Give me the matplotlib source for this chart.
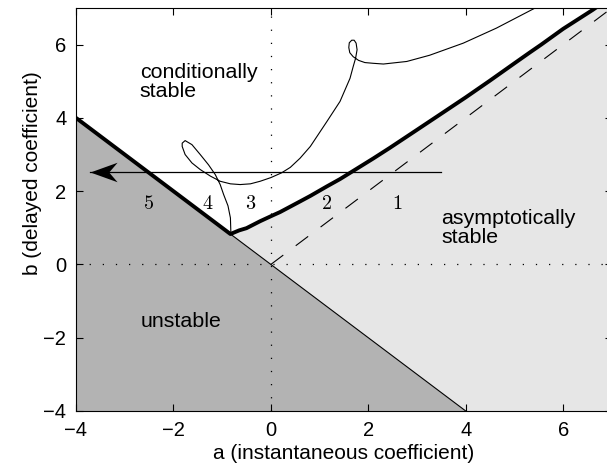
import numpy as np
import matplotlib
matplotlib.use('Agg')
import matplotlib.pyplot as plt
from matplotlib.path import Path

plt.rcParams['font.family'] = ['Liberation Sans', 'DejaVu Sans']
plt.rcParams['mathtext.fontset'] = 'cm'

# stability boundary (thick line): left straight part + curve
bound_a = [-4.0, -0.83, -0.65, -0.5, -0.22, 0.04, 0.19, 0.6, 0.81, 1.15, 1.42,
           1.76, 2.1, 2.44, 2.95, 3.47, 4.0, 4.49, 5.0, 5.31, 5.55, 6.0, 6.61, 6.75]
bound_b = [4.0, 0.83, 0.93, 0.99, 1.18, 1.34, 1.43, 1.72, 1.87, 2.13, 2.33,
           2.61, 2.89, 3.18, 3.63, 4.09, 4.56, 5.01, 5.49, 5.78, 6.0, 6.43, 6.95, 7.08]

# thin trajectory curve
traj_a = [-0.82, -0.83, -0.88, -0.97, -1.04, -1.14, -1.28, -1.45, -1.62, -1.76,
          -1.82, -1.82, -1.76, -1.62, -1.45, -1.24, -1.04, -0.83, -0.63, -0.42,
          -0.22, 0.0, 0.22, 0.40, 0.60, 0.81, 1.15, 1.42, 1.625, 1.69, 1.74,
          1.77, 1.75, 1.71, 1.66, 1.61, 1.60, 1.62, 1.69, 1.80, 1.93, 2.10,
          2.31, 2.79, 3.26, 3.95, 4.63, 5.31, 5.5]
traj_b = [0.83, 1.27, 1.60, 1.91, 2.18, 2.45, 2.72, 3.00, 3.27, 3.38,
          3.31, 3.22, 3.00, 2.77, 2.59, 2.41, 2.27, 2.20, 2.18, 2.20,
          2.27, 2.37, 2.50, 2.65, 2.90, 3.22, 3.90, 4.45, 5.08, 5.40, 5.63,
          5.86, 6.04, 6.12, 6.12, 6.05, 5.92, 5.78, 5.67, 5.57, 5.51, 5.49,
          5.47, 5.54, 5.71, 6.04, 6.45, 6.92, 7.05]

# horizontal arrow (start, end) and its height
arrow_a = [3.5, -3.72]
arrow_b = 2.52

diag_a = [-4, 4]          # line b = -a
dash_a = [0, 7]           # line b = a

num_labels = ['1', '2', '3', '4', '5']
num_a = [2.59, 1.15, -0.41, -1.30, -2.51]
num_b = 1.67

ticks = [-4, -2, 0, 2, 4, 6]

DARK = '#b3b3b3'
LIGHT = '#e6e6e6'

fig = plt.figure(figsize=(6.07, 4.69), dpi=100)
ax = fig.add_axes([0.1252, 0.1237, 0.8828, 0.8593])
ax.set_xlim(-4, 7)
ax.set_ylim(-4, 7)

# regions
da = np.array(diag_a, dtype=float)
ax.fill_between(da, -4, -da, color=DARK, lw=0, zorder=0)
left_b = [-4.0] + bound_b[1:]
left_a = [4.0] + bound_a[1:]
ax.fill_betweenx(left_b, left_a, 7, color=LIGHT, lw=0, zorder=0)

# reference lines
ax.axvline(0, color='k', lw=0.9, ls=(0, (1, 9.5)), zorder=1)
ax.axhline(0, color='k', lw=0.9, ls=(0, (1, 9.5)), zorder=1)
ax.plot(da, -da, color='k', lw=0.8, zorder=2)
ax.plot(dash_a, dash_a, color='k', lw=0.8, ls=(0, (14, 14)), zorder=2)

# boundary and trajectory
ax.plot(bound_a, bound_b, color='k', lw=2.8, solid_capstyle='butt',
        solid_joinstyle='round', zorder=3)
ax.plot(traj_a, traj_b, color='k', lw=0.8, solid_joinstyle='round', zorder=3)

# arrow
ax.plot(arrow_a, [arrow_b, arrow_b], color='k', lw=0.9, zorder=3)
head = Path([(0, 0), (1.0, 0.36), (0.69, 0), (1.0, -0.36), (0, 0)],
            [Path.MOVETO, Path.LINETO, Path.LINETO, Path.LINETO, Path.CLOSEPOLY])
ax.plot([arrow_a[1]], [arrow_b], marker=head, ms=39, color='k', mew=0, zorder=4)

for lab, xa in zip(num_labels, num_a):
    ax.text(xa, num_b, '$' + lab + '$', fontsize=14.5, ha='center', va='center', zorder=4)

ax.text(-2.69, 4.98, 'conditionally\nstable', fontsize=15.4, ha='left', va='center',
        linespacing=1.0)
ax.text(3.5, 1.0, 'asymptotically\nstable', fontsize=15.4, ha='left', va='center',
        linespacing=1.0)
ax.text(-2.68, -1.71, 'unstable', fontsize=15.4, ha='left', va='baseline')

ax.set_xticks(ticks)
ax.set_yticks(ticks)
ax.tick_params(direction='in', top=True, right=True, labelsize=14.5, length=5, pad=7)
ax.set_xlabel('a (instantaneous coefficient)', fontsize=15, labelpad=3)
ax.set_ylabel('b (delayed coefficient)', fontsize=15)
ax.yaxis.set_label_coords(-0.0634, 0.59)

for sp in ax.spines.values():
    sp.set_linewidth(0.8)

fig.savefig('out.png', dpi=100)
